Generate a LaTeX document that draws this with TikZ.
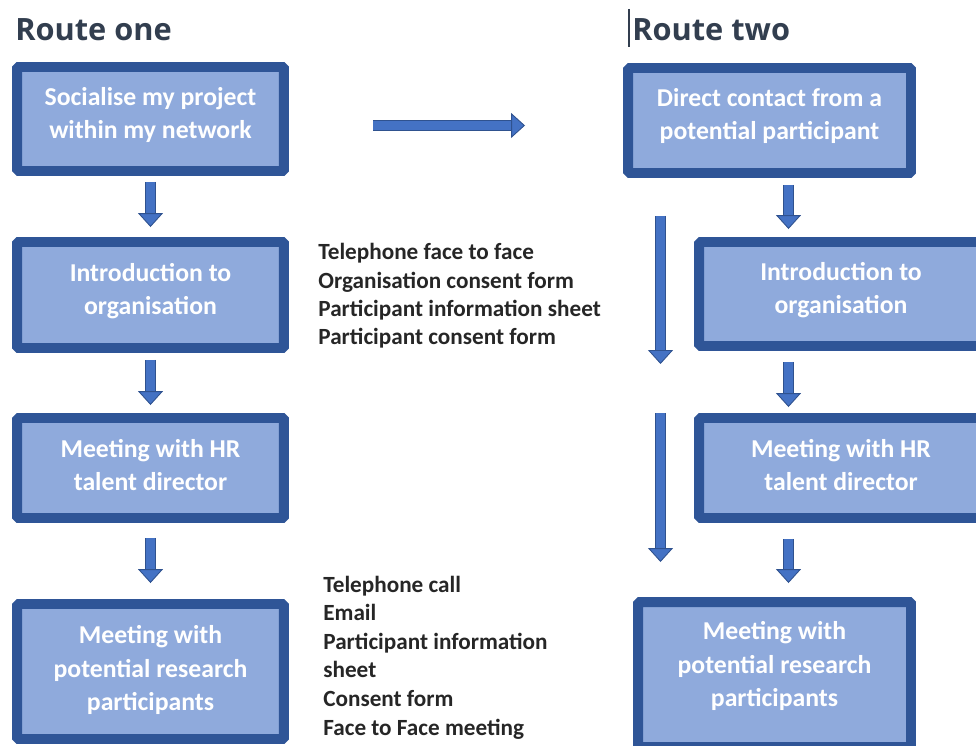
\documentclass[tikz,border=0pt]{standalone}
\usepackage{fontspec}
\usepackage{tikz}
\usetikzlibrary{arrows.meta,calc}
\newfontfamily\calib{Carlito}
\newfontfamily\headfont{Open Sans}
\definecolor{boxedge}{HTML}{2F5597}
\definecolor{boxfill}{HTML}{8FAADC}
\definecolor{arrowfill}{HTML}{4472C4}
\definecolor{arrowedge}{HTML}{2F528F}
\definecolor{headcol}{HTML}{323E4F}
\tikzset{
  routebox/.style={draw=boxedge, fill=boxfill, line width=5.67pt, rounded corners=1pt,
    text=white, align=center, inner sep=0pt, text depth=7pt,
    font=\calib\bfseries\fontsize{14.65}{18.9}\selectfont},
  flow/.style={draw=arrowfill, line width=5.67pt,
    -{Triangle[width=14.2pt,length=7.9pt,fill=arrowfill,color=arrowedge,line width=0.5pt]},
    preaction={draw=arrowedge, line width=6.7pt, shorten >=7.5pt, -}},
  heading/.style={anchor=base west, inner sep=0pt, text=headcol,
    font=\headfont\bfseries\fontsize{17.5}{21}\selectfont},
  note/.style={anchor=base west, inner sep=0pt, text=black!85,
    font=\calib\bfseries\fontsize{13.2}{16.2}\selectfont}
}

\begin{document}
\begin{tikzpicture}[x=0.02cm,y=-0.02cm]
    \useasboundingbox (0,0) rectangle (976,746);
    %%Route_one
    \node[heading] (head1) at (15,41) {Route one};
    \node[routebox, minimum width=5.34cm, minimum height=2.08cm] (soc) at (150.5,119) {Socialise my project\\within my network};
    \node[routebox, minimum width=5.34cm, minimum height=2.12cm] (intro1) at (150.5,295) {Introduction to\\organisation};
    \node[routebox, minimum width=5.34cm, minimum height=2.0cm, text depth=3.4pt] (hr1) at (150.5,468) {Meeting with HR\\talent director};
    \node[routebox, minimum width=5.34cm, minimum height=2.7cm, text depth=4pt] (meet1) at (150.5,671.5) {Meeting with\\potential research\\participants};
    \draw[flow] ($(soc.south)+(0,6)$) -- ($(intro1.north)+(0,-10)$);
    \draw[flow] ($(intro1.south)+(0,7)$) -- ($(hr1.north)+(0,-8)$);
    \draw[flow] ($(hr1.south)+(0,15)$) -- ($(meet1.north)+(0,-16)$);
    %%Route_two
    \node[heading] (head2) at (632,41) {Route two};
    \draw[headcol, line width=0.7pt] (629,9) -- (629,47);
    \node[routebox, minimum width=5.66cm, minimum height=2.10cm] (direct) at (769.5,120.5) {Direct contact from a\\potential participant};
    \node[routebox, minimum width=5.68cm, minimum height=2.08cm] (intro2) at (841,294) {Introduction to\\organisation};
    \node[routebox, minimum width=5.68cm, minimum height=2.0cm, text depth=3.4pt] (hr2) at (841,468) {Meeting with HR\\talent director};
    \node[routebox, minimum width=5.46cm, minimum height=2.9cm, text depth=12pt] (meet2) at (774.5,674.5) {Meeting with\\potential research\\participants};
    \coordinate (rc) at (788.5,0);
    \draw[flow] ($(direct.south -| rc)+(0,7)$) -- ($(intro2.north -| rc)+(0,-8)$);
    \draw[flow] ($(intro2.south -| rc)+(0,11)$) -- ($(hr2.north -| rc)+(0,-6)$);
    \draw[flow] ($(hr2.south -| rc)+(0,16)$) -- ($(meet2.north -| rc)+(0,-14)$);
    %%bypass
    \coordinate (by1) at (660.5,216);
    \coordinate (by2) at (660.5,364);
    \coordinate (by3) at (660.5,413);
    \coordinate (by4) at (660.5,562);
    \draw[flow] (by1) -- (by2);
    \draw[flow] (by3) -- (by4);
    %%across
    \coordinate (hs) at (373,125.5);
    \coordinate (he) at (525,125.5);
    \draw[flow] (hs) -- (he);
    %%documents
    \foreach \txt [count=\i from 0] in {Telephone face to face, Organisation consent form, Participant information sheet, Participant consent form}
        \node[note] (doca\i) at (318,{260+28.3*\i}) {\txt};
    \foreach \txt [count=\i from 0] in {Telephone call, Email, Participant information, sheet, Consent form, Face to Face meeting}
        \node[note] (docb\i) at (323,{592+28.6*\i}) {\txt};
\end{tikzpicture}
\end{document}
